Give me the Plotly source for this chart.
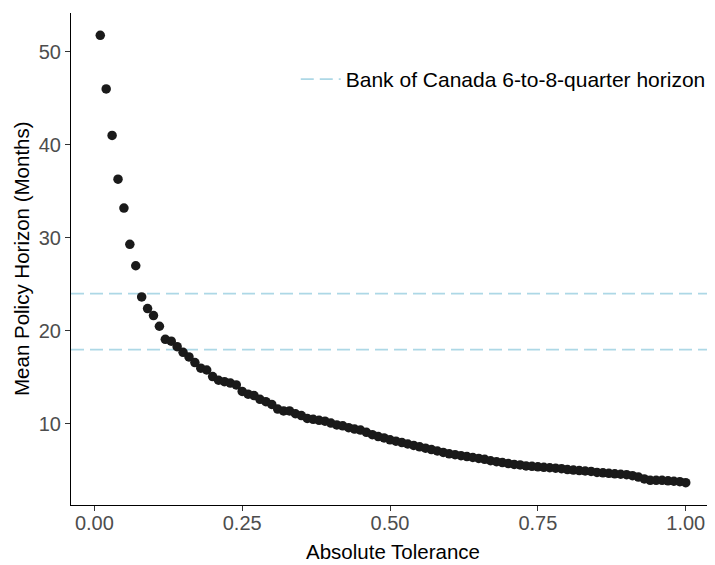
import plotly.graph_objects as go

tolerance = [round(0.01 * i, 2) for i in range(1, 101)]
mean_horizon = [
    51.75, 46.0, 41.0, 36.3, 33.2, 29.3, 27.0, 23.65, 22.4, 21.65,
    20.5, 19.1, 18.9, 18.3, 17.7, 17.2, 16.6, 16.0, 15.8, 15.1,
    14.7, 14.55, 14.4, 14.2, 13.5, 13.2, 13.05, 12.65, 12.4, 12.1,
    11.6, 11.4, 11.4, 11.1, 10.9, 10.6, 10.5, 10.4, 10.3, 10.1,
    9.9, 9.8, 9.6, 9.45, 9.35, 9.1, 8.85, 8.65, 8.5, 8.3,
    8.15, 8.0, 7.85, 7.7, 7.55, 7.4, 7.25, 7.1, 6.95, 6.8,
    6.7, 6.6, 6.5, 6.4, 6.3, 6.2, 6.05, 5.95, 5.85, 5.75,
    5.65, 5.6, 5.5, 5.45, 5.4, 5.35, 5.3, 5.25, 5.2, 5.1,
    5.05, 5.0, 4.95, 4.9, 4.8, 4.75, 4.7, 4.65, 4.6, 4.55,
    4.45, 4.3, 4.1, 3.95, 3.95, 3.95, 3.9, 3.85, 3.8, 3.7,
]
boc_horizon = [18, 24]
boc_label = "Bank of Canada 6-to-8-quarter horizon"
x_title = "Absolute Tolerance"
y_title = "Mean Policy Horizon (Months)"
x_ticks = [0.0, 0.25, 0.5, 0.75, 1.0]
x_tick_labels = ["0.00", "0.25", "0.50", "0.75", "1.00"]
y_ticks = [10, 20, 30, 40, 50]

line_color = "#ADD8E6"
dash = "13px,6px"
FONT = "Liberation Sans, Arial, sans-serif"

fig = go.Figure()
for h in boc_horizon:
    fig.add_hline(y=h, line=dict(color=line_color, width=1.8, dash=dash), layer="below")

fig.add_trace(go.Scatter(
    x=[None], y=[None], mode="lines", name=boc_label,
    line=dict(color=line_color, width=1.8, dash=dash), showlegend=True,
))
fig.add_trace(go.Scatter(
    x=tolerance, y=mean_horizon, mode="markers", showlegend=False,
    marker=dict(color="#1a1a1a", size=9.5, line=dict(width=0)),
))

xr = [min(tolerance), max(tolerance)]
xpad = (xr[1] - xr[0]) * 0.05
yr = [min(mean_horizon), max(mean_horizon)]
ypad = (yr[1] - yr[0]) * 0.05

axis_common = dict(
    showgrid=False, zeroline=False, showline=True, linecolor="black", linewidth=1.1,
    ticks="outside", ticklen=5, tickcolor="#333333", tickwidth=1.1,
    tickfont=dict(family=FONT, size=20, color="#4D4D4D"),
    automargin=False,
)

fig.update_layout(
    width=715, height=557,
    margin=dict(l=63, r=8, t=5, b=60),
    plot_bgcolor="white", paper_bgcolor="white",
    font=dict(family=FONT, color="black"),
    xaxis=dict(
        range=[xr[0] - xpad, xr[1] + xpad], tickvals=x_ticks, ticktext=x_tick_labels,
        ticklabelstandoff=-5,
        **axis_common,
    ),
    yaxis=dict(
        range=[yr[0] - ypad, yr[1] + ypad], tickvals=y_ticks,
        **axis_common,
    ),
    legend=dict(
        x=0.349, y=0.865, xanchor="left", yanchor="middle", itemwidth=40,
        font=dict(family=FONT, size=21, color="black"), bgcolor="rgba(0,0,0,0)",
    ),
    annotations=[
        dict(text=x_title, xref="paper", yref="paper", x=0.5, y=0, xanchor="center",
             yanchor="middle", yshift=-46, showarrow=False,
             font=dict(family=FONT, size=20.5, color="black")),
        dict(text=y_title, xref="paper", yref="paper", x=0, y=0.5, xanchor="center",
             yanchor="middle", xshift=-50, textangle=-90, showarrow=False,
             font=dict(family=FONT, size=20.5, color="black")),
    ],
)

fig.write_html("out.html")
